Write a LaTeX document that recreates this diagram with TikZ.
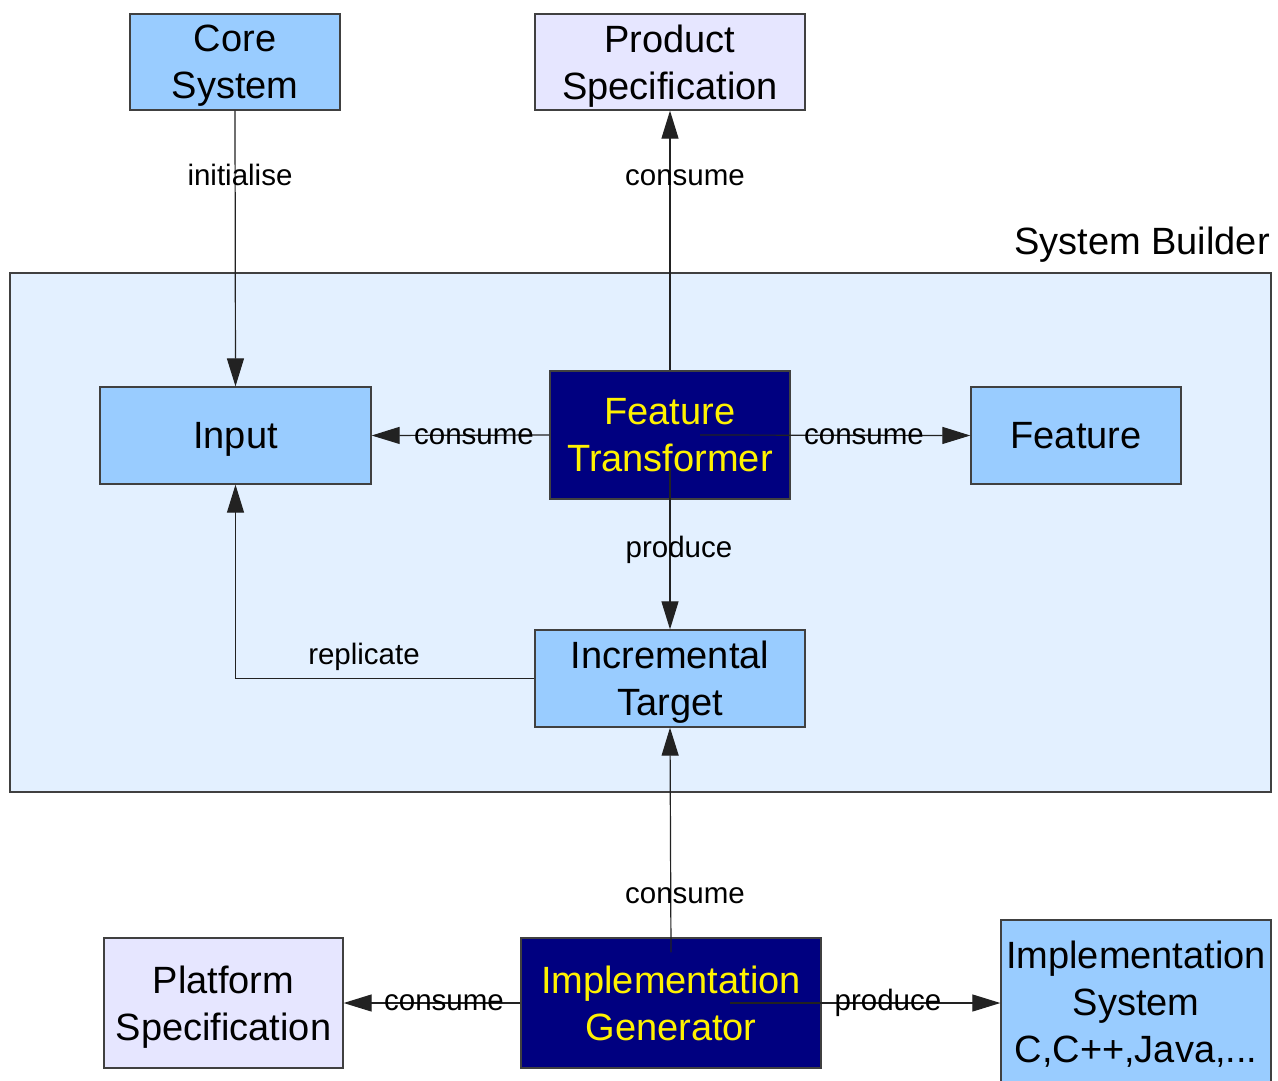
\documentclass[tikz,border=0pt]{standalone}
\usepackage{fontspec}
\setmainfont{Liberation Sans}
\usetikzlibrary{arrows.meta,calc}
\definecolor{boxblue}{HTML}{99CCFF}
\definecolor{lav}{HTML}{E6E6FF}
\definecolor{frameblue}{HTML}{E3F0FF}
\definecolor{navyc}{HTML}{000080}
\definecolor{edgec}{HTML}{404040}
\definecolor{linec}{HTML}{222222}
\begin{document}
\begin{tikzpicture}[x=1pt,y=-1pt,
  box/.style={draw=edgec, line width=1.3pt, fill=boxblue, align=center, inner sep=0pt, text depth=0pt, font=\fontsize{38}{47}\selectfont},
  lavbox/.style={box, fill=lav},
  darkbox/.style={box, fill=navyc, text=yellow},
  conn/.style={draw=linec, line width=1.2pt, -{Triangle[length=28pt,width=17pt]}},
  lbl/.style={font=\fontsize{29.5}{35}\selectfont, inner sep=0pt, anchor=base}]
\clip (0,0) rectangle (1278,1080);
\fill[white] (0,0) rectangle (1278,1080);
\node[draw=edgec, fill=frameblue, line width=1.3pt, minimum width=1261pt, minimum height=519pt, inner sep=0pt] (sb) at (640.5,532.5) {};
\node[inner sep=0pt, anchor=base east, font=\fontsize{38}{47}\selectfont] (sbl) at (1270,254) {System Builder};

\node[box, minimum width=210pt, minimum height=96pt] (core) at (235,62) {Core\\System};
\node[lavbox, minimum width=270pt, minimum height=96pt] (prod) at (670,62) {Product\\Specification};
\node[box, minimum width=271pt, minimum height=97pt] (input) at (235.5,435.5) {Input};
\node[darkbox, minimum width=240pt, minimum height=128pt] (ft) at (670,435) {Feature\\Transformer};
\node[box, minimum width=210pt, minimum height=97pt] (feat) at (1076,435.5) {Feature};
\node[box, minimum width=270pt, minimum height=97pt] (inc) at (670,678.5) {Incremental\\Target};
\node[lavbox, minimum width=239pt, minimum height=130pt] (plat) at (223.5,1003) {Platform\\Specification};
\node[darkbox, minimum width=300pt, minimum height=130pt] (gen) at (671,1003) {Implementation\\Generator};
\node[box, minimum width=270pt, minimum height=164pt] (impl) at (1136,1002) {Implementation\\System\\C,C++,Java,...};

\draw[conn] (core.south) -- (input.north);
\draw[conn] (ft.north) -- (prod.south);
\draw[conn] (ft.west) -- (input.east);
\draw[conn] ($(ft.center)+(30,0)$) -- (feat.west);
\draw[conn] ($(ft.center)+(0,33)$) -- (inc.north);
\draw[conn] (inc.west) -| (input.south);
\draw[conn] ($(gen.north)+(0,15)$) -- (inc.south);
\draw[conn] (gen.west) -- (plat.east);
\draw[conn] ($(gen.center)+(59,0)$) -- (impl.west |- gen.center);

\node[lbl] (l1) at (240,185) {initialise};
\node[lbl] (l2) at (685,185) {consume};
\node[lbl] (l3) at (474,444) {consume};
\node[lbl] (l4) at (864,444) {consume};
\node[lbl] (l5) at (679,557) {produce};
\node[lbl] (l6) at (364,664) {replicate};
\node[lbl] (l7) at (685,903) {consume};
\node[lbl] (l8) at (444,1010) {consume};
\node[lbl] (l9) at (888,1010) {produce};
\end{tikzpicture}
\end{document}
